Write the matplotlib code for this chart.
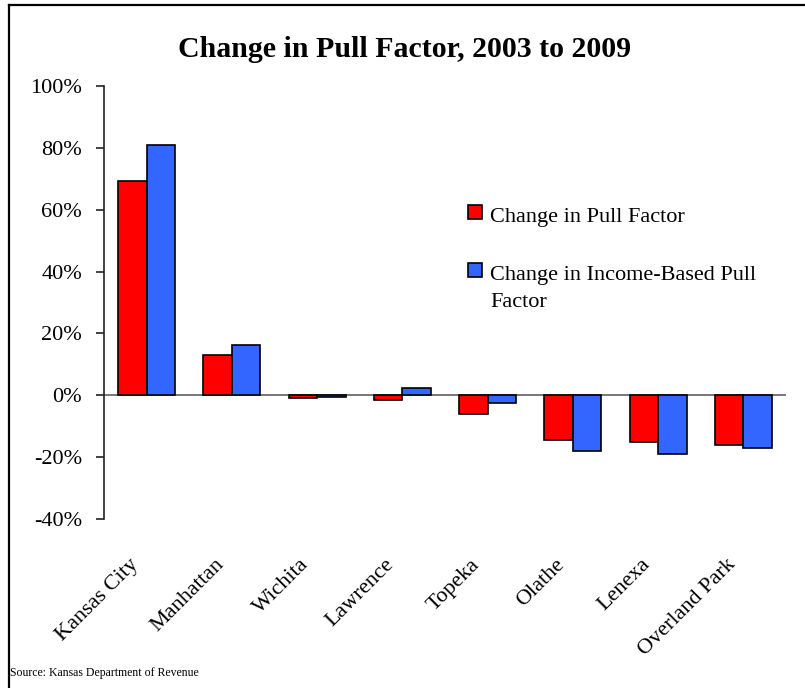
import matplotlib
matplotlib.use("Agg")
import matplotlib.pyplot as plt
from matplotlib.patches import Rectangle
from matplotlib.lines import Line2D
from matplotlib.transforms import ScaledTranslation
import numpy as np

cities = ["Kansas City", "Manhattan", "Wichita", "Lawrence", "Topeka",
          "Olathe", "Lenexa", "Overland Park"]
pull_change = [69.3, 13.1, -1.0, -1.6, -6.0, -14.5, -15.0, -16.2]
income_pull_change = [80.8, 16.1, -0.5, 2.2, -2.5, -18.0, -19.1, -17.2]
y_ticks = [-40, -20, 0, 20, 40, 60, 80, 100]
series_labels = ["Change in Pull Factor", "Change in Income-Based Pull\nFactor"]
series_colors = ["#FF0000", "#3366FF"]

plt.rcParams["font.family"] = ["Liberation Serif", "DejaVu Serif"]

W, H = 805, 688
fig = plt.figure(figsize=(W / 100, H / 100), dpi=100)

def fx(px):
    return px / W

def fy(py):
    return 1 - py / H

ax = fig.add_axes([fx(104), fy(519), fx(786) - fx(104), fy(86) - fy(519)])

x = np.arange(len(cities))
bw = 0.334
ax.bar(x - bw / 2, pull_change, bw, color=series_colors[0],
       edgecolor="black", linewidth=1.2, zorder=3)
ax.bar(x + bw / 2, income_pull_change, bw, color=series_colors[1],
       edgecolor="black", linewidth=1.2, zorder=3)

ax.set_xlim(-0.5, len(cities) - 0.5)
ax.set_ylim(-40, 100)
ax.axhline(0, color="#606060", linewidth=1.2, zorder=2)

for s in ["top", "right", "bottom"]:
    ax.spines[s].set_visible(False)
ax.spines["left"].set_color("#222222")
ax.spines["left"].set_linewidth(1.2)

ax.set_yticks(y_ticks)
ax.set_yticklabels([f"{v}%" for v in y_ticks], fontsize=16)
ax.tick_params(axis="y", direction="out", length=5.8, width=1.2,
               color="#222222", pad=10)

ax.set_xticks(x)
ax.set_xticklabels(cities, fontsize=16, rotation=45, ha="right",
                   va="center", rotation_mode="anchor")
ax.tick_params(axis="x", length=0, pad=31)
shift = ScaledTranslation(-11 / 100, 0, fig.dpi_scale_trans)
for lbl in ax.get_xticklabels():
    lbl.set_transform(lbl.get_transform() + shift)

# Title
fig.text(fx(405), fy(57), "Change in Pull Factor, 2003 to 2009",
         fontsize=21.5, fontweight="bold", ha="center", va="baseline")

# Legend drawn as swatches with wrapped text (y = baseline of last line)
legend_rows = [(205, 222), (263, 307)]
for (top, base), lab, col in zip(legend_rows, series_labels, series_colors):
    fig.patches.append(Rectangle((fx(468), fy(top + 14)), fx(14), fy(top) - fy(top + 14),
                                 transform=fig.transFigure, facecolor=col,
                                 edgecolor="black", linewidth=1.2))
    fig.text(fx(490), fy(base), lab, fontsize=16, ha="left", va="baseline",
             linespacing=1.6)

# Source note
fig.text(fx(10), fy(676), "Source: Kansas Department of Revenue",
         fontsize=8.5, ha="left", va="baseline")

# Outer frame (top and left edges)
fig.lines.append(Line2D([fx(9), 1], [fy(5), fy(5)], transform=fig.transFigure,
                        color="black", linewidth=1.6))
fig.lines.append(Line2D([fx(9), fx(9)], [fy(5), 0], transform=fig.transFigure,
                        color="black", linewidth=1.6))

fig.savefig("out.png", dpi=100)
